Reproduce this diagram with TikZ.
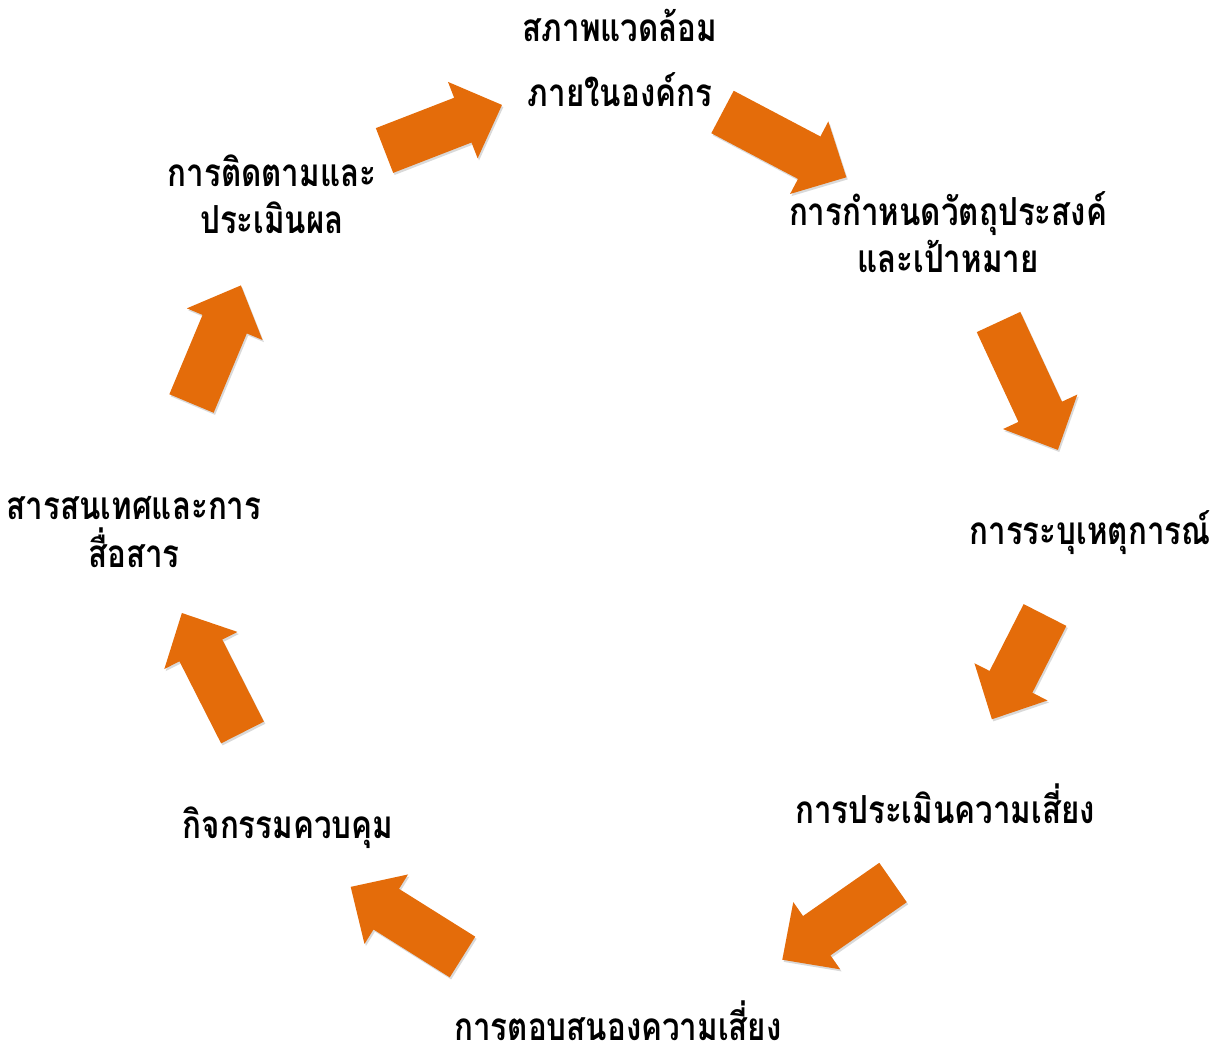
\documentclass[tikz,border=0pt]{standalone}
\usepackage{fontspec}
\newfontfamily\thaifont[Script=Thai,FakeStretch=0.81]{Loma}
\usetikzlibrary{shadows}
\definecolor{cycleorange}{RGB}{228,108,10}

\tikzset{
  steptext/.style={font=\thaifont\bfseries\fontsize{22}{27}\selectfont, align=center, inner sep=0pt},
  arrowfill/.style={fill=cycleorange, drop shadow={shadow xshift=0.8pt, shadow yshift=-1.2pt, fill=black!60, opacity=0.25}},
  pics/bigarrow/.style={code={
      \path[arrowfill] (0,-24) -- (#1-42,-24) -- (#1-42,-41) -- (#1,0)
        -- (#1-42,41) -- (#1-42,24) -- (0,24) -- cycle;
  }}
}

\begin{document}
\begin{tikzpicture}[x=0.02cm, y=-0.02cm]
            \useasboundingbox (0,0) rectangle (1212,1057);

            % steps of the cycle
            \node[steptext] (env)     at (620,58)   {สภาพแวดล้อม\\[10pt]ภายในองค์กร};
            \node[steptext] (goal)    at (948,232)  {การกำหนดวัตถุประสงค์\\และเป้าหมาย};
            \node[steptext] (event)   at (1090,533) {การระบุเหตุการณ์};
            \node[steptext] (assess)  at (945,804)  {การประเมินความเสี่ยง};
            \node[steptext] (respond) at (618,1021) {การตอบสนองความเสี่ยง};
            \node[steptext] (control) at (288,828)  {กิจกรรมควบคุม};
            \node[steptext] (info)    at (134,532)  {สารสนเทศและการ\\สื่อสาร};
            \node[steptext] (monitor) at (272,194)  {การติดตามและ\\ประเมินผล};

            % block arrows between the steps
            \pic[rotate=21.2]   at (384.5,150.5) {bigarrow=126};
            \pic[rotate=-27.8]  at (722.5,112)   {bigarrow=140};
            \pic[rotate=-65.1]  at (998.5,322)   {bigarrow=141};
            \pic[rotate=-117]   at (1045,615)    {bigarrow=117};
            \pic[rotate=-145.1] at (893,882.5)   {bigarrow=135};
            \pic[rotate=-212.1] at (462.5,957)   {bigarrow=132};
            \pic[rotate=116.9]  at (242.5,732.5) {bigarrow=134};
            \pic[rotate=67.3]   at (191.5,403.5) {bigarrow=128};
        \end{tikzpicture}
\end{document}
